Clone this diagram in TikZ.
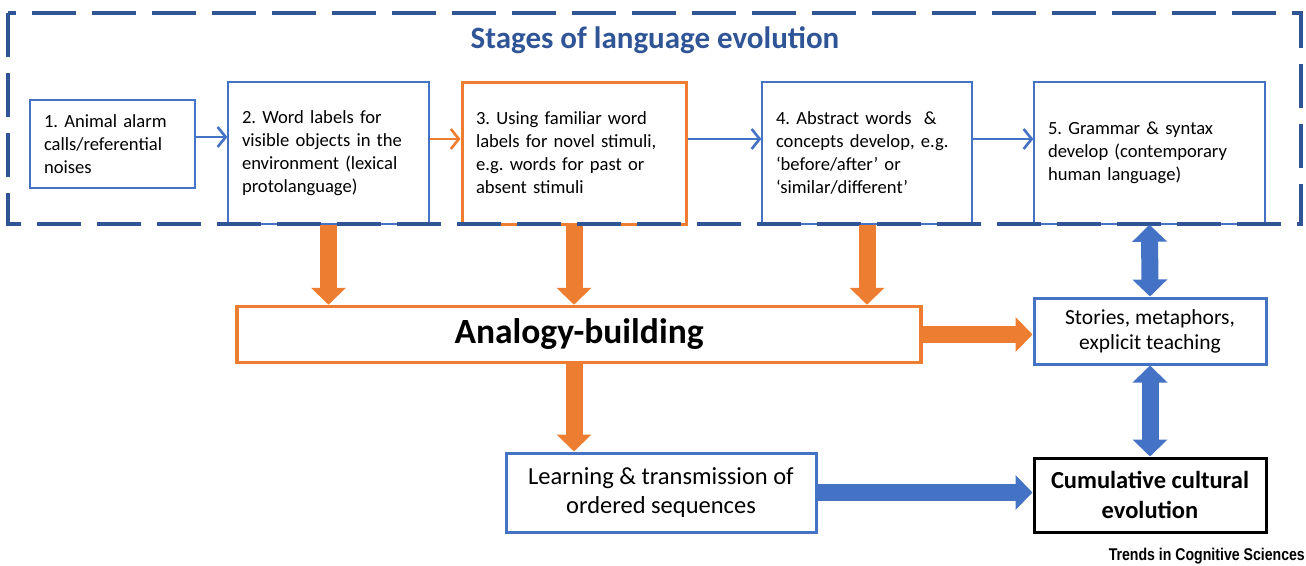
\documentclass[tikz,border=0pt]{standalone}
\usepackage{fontspec}
\setmainfont{Carlito}
\newfontfamily\logofont{Liberation Sans}
\usetikzlibrary{arrows.meta}
\definecolor{lblue}{HTML}{4472C4}
\definecolor{dblue}{HTML}{2F5597}
\definecolor{orng}{HTML}{ED7D31}
\frenchspacing

\begin{document}
\begin{tikzpicture}[x=1pt,y=-1pt,
	stage/.style={draw=lblue,line width=1.4pt,fill=white,align=left,inner xsep=14pt,
		font=\fontsize{18.6}{23}\selectfont},
	thin/.style={line width=2.6pt,-{Straight Barb[length=8pt,width=20pt]}},
	fat/.style={line width=17pt,-{Triangle[length=17pt,width=34pt]}},
	fatboth/.style={line width=17pt,{Triangle[length=17pt,width=34pt]}-{Triangle[length=17pt,width=34pt]}}]
	\useasboundingbox (0,0) rectangle (1306,565);

	\node[stage,minimum width=165,minimum height=88,text width=137] (s1) at (112.5,144) {1. Animal alarm\\calls/referential\\noises};
	\node[stage,minimum width=201,minimum height=142,text width=173] (s2) at (328.5,153) {2. Word labels for\\visible objects in the\\environment (lexical\\protolanguage)};
	\node[stage,draw=orng,line width=3pt,minimum width=224,minimum height=142,text width=196] (s3) at (574,153) {3. Using familiar word\\labels for novel stimuli,\\e.g. words for past or\\absent stimuli};
	\node[stage,minimum width=208,minimum height=142,text width=182] (s4) at (867,153) {4. Abstract words~~\&\\concepts develop, e.g.\\‘before/after’ or\\‘similar/different’};
	\node[stage,minimum width=231,minimum height=142,text width=203] (s5) at (1149.5,153) {5. Grammar \& syntax\\develop (contemporary\\human language)};

	\node[draw=orng,line width=3.5pt,minimum width=684,minimum height=56,font=\fontsize{35.5}{40}\selectfont\bfseries] (analogy) at (579,334.5) {Analogy-building};
	\node[draw=lblue,line width=3pt,minimum width=232,minimum height=66,align=center,font=\fontsize{21.5}{25}\selectfont] (stories) at (1150,331) {Stories, metaphors,\\explicit teaching};
	\node[draw=lblue,line width=3pt,minimum width=310,minimum height=79,align=center,font=\fontsize{24.5}{29.5}\selectfont] (learning) at (661,492.5) {Learning \& transmission of\\ordered sequences};
	\node[draw=black,line width=3pt,minimum width=232,minimum height=74,align=center,font=\fontsize{24.5}{30}\selectfont\bfseries] (cumulative) at (1150,495) {Cumulative cultural\\evolution};

	\draw[thin,lblue] ([yshift=7pt]s1.east) -- ([yshift=7pt]s1.east -| s2.west);
	\draw[thin,orng] ([yshift=14pt]s2.east) -- ([yshift=14pt]s3.west);
	\draw[thin,lblue] ([yshift=14pt]s3.east) -- ([yshift=14pt]s4.west);
	\draw[thin,lblue] ([yshift=14pt]s4.east) -- ([yshift=14pt]s5.west);

	% dashed frame over the stages
	\node[font=\fontsize{31}{36}\selectfont\bfseries,text=dblue] (title) at (655,40) {Stages of language evolution};
	\draw[dblue,line width=4pt,dash pattern=on 44pt off 16pt] (8,13) rectangle (1301,224);

	\draw[fat,orng] (s2.south) -- (s2.south |- analogy.north);
	\draw[fat,orng] (s3.south) -- (s3.south |- analogy.north);
	\draw[fat,orng] (s4.south) -- (s4.south |- analogy.north);
	\draw[fat,orng] (s3.south |- analogy.south) -- (s3.south |- learning.north);
	\draw[fat,orng] (analogy.east) -- (analogy.east -| stories.west);
	\draw[fat,lblue] (learning.east) -- (learning.east -| cumulative.west);
	\draw[fatboth,lblue] (s5.south) -- (stories.north);
	\draw[fatboth,lblue] (stories.south) -- (cumulative.north);

	\node[anchor=east,inner sep=0pt,font=\logofont\bfseries\fontsize{17}{17}\selectfont] (logo) at (1305,556) {\scalebox{0.83}[1]{Trends in Cognitive Sciences}};
\end{tikzpicture}
\end{document}
